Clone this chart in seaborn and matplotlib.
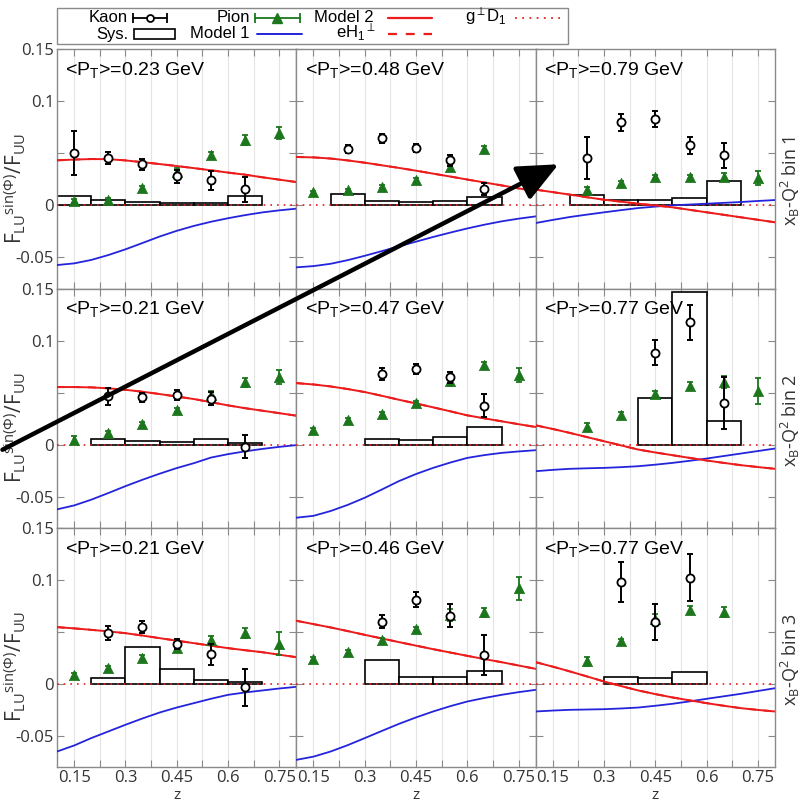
import matplotlib
matplotlib.use("Agg")
import matplotlib.pyplot as plt
import seaborn as sns
from matplotlib.lines import Line2D
from matplotlib.patches import Rectangle, FancyArrowPatch

# ---------------------------------------------------------------- data
z_curve = [0.10, 0.15, 0.20, 0.25, 0.30, 0.35, 0.40, 0.45,
           0.50, 0.55, 0.60, 0.65, 0.70, 0.75, 0.80]

pt_means = ["0.23", "0.48", "0.79",
            "0.21", "0.47", "0.77",
            "0.21", "0.46", "0.77"]
bin_names = ["bin 1", "bin 2", "bin 3"]
x_tick_vals = [0.15, 0.225, 0.3, 0.375, 0.45, 0.525, 0.6, 0.675, 0.75]
x_tick_text = ["0.15", "", "0.3", "", "0.45", "", "0.6", "", "0.75"]
y_tick_vals = [-0.05, 0.0, 0.05, 0.1, 0.15]
y_tick_text = ["-0.05", "0", "", "0.1", "0.15"]

kaon_z = [
    [0.15, 0.25, 0.35, 0.45, 0.55, 0.65],
    [0.25, 0.35, 0.45, 0.55, 0.65],
    [0.25, 0.35, 0.45, 0.55, 0.65],
    [0.25, 0.35, 0.45, 0.55, 0.65],
    [0.35, 0.45, 0.55, 0.65],
    [0.45, 0.55, 0.65],
    [0.25, 0.35, 0.45, 0.55, 0.65],
    [0.35, 0.45, 0.55, 0.65],
    [0.35, 0.45, 0.55],
]
kaon_val = [
    [0.0503, 0.0455, 0.0397, 0.0279, 0.0240, 0.0154],
    [0.0542, 0.0644, 0.0551, 0.0433, 0.0157],
    [0.0455, 0.0798, 0.0830, 0.0577, 0.0481],
    [0.0463, 0.0454, 0.0479, 0.0441, -0.0022],
    [0.0677, 0.0725, 0.0645, 0.0374],
    [0.0885, 0.1176, 0.0399],
    [0.0487, 0.0545, 0.0381, 0.0285, -0.0035],
    [0.0599, 0.0808, 0.0654, 0.0279],
    [0.0978, 0.0593, 0.1022],
]
kaon_err = [
    [0.0210, 0.0060, 0.0053, 0.0060, 0.0090, 0.0120],
    [0.0035, 0.0040, 0.0040, 0.0050, 0.0060],
    [0.0205, 0.0085, 0.0075, 0.0083, 0.0120],
    [0.0080, 0.0045, 0.0050, 0.0060, 0.0110],
    [0.0060, 0.0050, 0.0050, 0.0110],
    [0.0123, 0.0168, 0.0250],
    [0.0070, 0.0060, 0.0050, 0.0100, 0.0180],
    [0.0060, 0.0070, 0.0110, 0.0190],
    [0.0195, 0.0170, 0.0230],
]
# systematic uncertainty boxes share the kaon z bins
kaon_sys = [
    [0.0087, 0.0054, 0.0032, 0.0019, 0.0026, 0.0087],
    [0.0112, 0.0042, 0.0029, 0.0042, 0.0077],
    [0.0096, 0.0048, 0.0048, 0.0071, 0.0234],
    [0.0058, 0.0038, 0.0022, 0.0054, 0.0013],
    [0.0058, 0.0048, 0.0070, 0.0169],
    [0.0447, 0.1470, 0.0224],
    [0.0054, 0.0353, 0.0144, 0.0038, 0.0016],
    [0.0231, 0.0061, 0.0070, 0.0125],
    [0.0070, 0.0054, 0.0109],
]

pion_z = [
    [0.15, 0.25, 0.35, 0.45, 0.55, 0.65, 0.75],
    [0.15, 0.25, 0.35, 0.45, 0.55, 0.65],
    [0.25, 0.35, 0.45, 0.55, 0.65, 0.75],
    [0.15, 0.25, 0.35, 0.45, 0.55, 0.65, 0.75],
    [0.15, 0.25, 0.35, 0.45, 0.55, 0.65, 0.75],
    [0.25, 0.35, 0.45, 0.55, 0.65, 0.75],
    [0.15, 0.25, 0.35, 0.45, 0.55, 0.65, 0.75],
    [0.15, 0.25, 0.35, 0.45, 0.55, 0.65, 0.75],
    [0.25, 0.35, 0.45, 0.55, 0.65],
]
pion_val = [
    [0.0045, 0.0055, 0.0167, 0.0320, 0.0480, 0.0630, 0.0696],
    [0.0125, 0.0144, 0.0180, 0.0240, 0.0369, 0.0542],
    [0.0151, 0.0215, 0.0272, 0.0272, 0.0272, 0.0263],
    [0.0048, 0.0112, 0.0198, 0.0329, 0.0479, 0.0597, 0.0649],
    [0.0137, 0.0240, 0.0294, 0.0399, 0.0607, 0.0767, 0.0671],
    [0.0166, 0.0288, 0.0486, 0.0565, 0.0600, 0.0518],
    [0.0087, 0.0150, 0.0253, 0.0343, 0.0423, 0.0487, 0.0385],
    [0.0237, 0.0304, 0.0417, 0.0529, 0.0663, 0.0686, 0.0920],
    [0.0215, 0.0407, 0.0625, 0.0712, 0.0689],
]
pion_err = [
    [0.0020, 0.0015, 0.0015, 0.0040, 0.0030, 0.0050, 0.0060],
    [0.0015, 0.0015, 0.0015, 0.0020, 0.0030, 0.0030],
    [0.0030, 0.0020, 0.0020, 0.0020, 0.0040, 0.0070],
    [0.0030, 0.0020, 0.0020, 0.0020, 0.0040, 0.0040, 0.0070],
    [0.0020, 0.0020, 0.0020, 0.0020, 0.0040, 0.0030, 0.0070],
    [0.0040, 0.0030, 0.0030, 0.0040, 0.0060, 0.0125],
    [0.0020, 0.0020, 0.0020, 0.0030, 0.0040, 0.0050, 0.0110],
    [0.0020, 0.0020, 0.0020, 0.0020, 0.0060, 0.0040, 0.0110],
    [0.0040, 0.0020, 0.0050, 0.0040, 0.0050],
]

model1 = [
    [-0.0574, -0.0558, -0.0525, -0.0478, -0.0423, -0.0362, -0.0300, -0.0245,
     -0.0198, -0.0158, -0.0124, -0.0094, -0.0068, -0.0048, -0.0032],
    [-0.0596, -0.0584, -0.0562, -0.0527, -0.0485, -0.0440, -0.0394, -0.0349,
     -0.0304, -0.0262, -0.0222, -0.0186, -0.0154, -0.0128, -0.0106],
    [-0.0170, -0.0140, -0.0112, -0.0089, -0.0067, -0.0046, -0.0026, -0.0012,
     0.0000, 0.0008, 0.0016, 0.0024, 0.0032, 0.0042, 0.0051],
    [-0.0623, -0.0585, -0.0530, -0.0466, -0.0400, -0.0338, -0.0280, -0.0226,
     -0.0179, -0.0125, -0.0092, -0.0065, -0.0042, -0.0022, -0.0005],
    [-0.0703, -0.0685, -0.0639, -0.0580, -0.0511, -0.0432, -0.0351, -0.0283,
     -0.0224, -0.0173, -0.0128, -0.0101, -0.0080, -0.0066, -0.0054],
    [-0.0256, -0.0243, -0.0233, -0.0228, -0.0224, -0.0217, -0.0208, -0.0193,
     -0.0176, -0.0156, -0.0134, -0.0110, -0.0086, -0.0062, -0.0038],
    [-0.0651, -0.0593, -0.0522, -0.0458, -0.0394, -0.0333, -0.0276, -0.0228,
     -0.0186, -0.0144, -0.0106, -0.0083, -0.0064, -0.0045, -0.0029],
    [-0.0731, -0.0700, -0.0651, -0.0590, -0.0522, -0.0453, -0.0385, -0.0323,
     -0.0266, -0.0215, -0.0170, -0.0136, -0.0106, -0.0080, -0.0058],
    [-0.0266, -0.0257, -0.0250, -0.0247, -0.0244, -0.0237, -0.0228, -0.0211,
     -0.0192, -0.0169, -0.0144, -0.0120, -0.0096, -0.0069, -0.0042],
]
model2 = [
    [0.0433, 0.0440, 0.0445, 0.0444, 0.0432, 0.0415, 0.0397, 0.0378,
     0.0358, 0.0337, 0.0315, 0.0295, 0.0270, 0.0247, 0.0224],
    [0.0465, 0.0461, 0.0450, 0.0432, 0.0410, 0.0385, 0.0360, 0.0333,
     0.0305, 0.0277, 0.0248, 0.0220, 0.0192, 0.0163, 0.0135],
    [0.0151, 0.0127, 0.0103, 0.0078, 0.0054, 0.0035, 0.0016, -0.0001,
     -0.0019, -0.0043, -0.0067, -0.0091, -0.0115, -0.0139, -0.0163],
    [0.0553, 0.0553, 0.0550, 0.0541, 0.0527, 0.0508, 0.0486, 0.0462,
     0.0438, 0.0408, 0.0377, 0.0350, 0.0326, 0.0302, 0.0278],
    [0.0591, 0.0578, 0.0559, 0.0534, 0.0505, 0.0469, 0.0431, 0.0395,
     0.0358, 0.0320, 0.0281, 0.0252, 0.0224, 0.0196, 0.0169],
    [0.0185, 0.0150, 0.0112, 0.0072, 0.0032, -0.0008, -0.0048, -0.0076,
     -0.0102, -0.0128, -0.0153, -0.0176, -0.0198, -0.0216, -0.0233],
    [0.0545, 0.0533, 0.0519, 0.0504, 0.0487, 0.0464, 0.0439, 0.0415,
     0.0391, 0.0367, 0.0343, 0.0323, 0.0304, 0.0280, 0.0256],
    [0.0606, 0.0574, 0.0542, 0.0507, 0.0471, 0.0436, 0.0401, 0.0367,
     0.0333, 0.0301, 0.0269, 0.0238, 0.0208, 0.0176, 0.0144],
    [0.0208, 0.0165, 0.0119, 0.0071, 0.0022, -0.0022, -0.0064, -0.0099,
     -0.0131, -0.0159, -0.0186, -0.0211, -0.0234, -0.0251, -0.0266],
]
# eH1-perp term: coincides with Model 2 everywhere on this scale
eh1_term = model2
# g-perp D1 term: flat at zero
gperp_d1 = [0.0, 0.0, 0.0, 0.0, 0.0, 0.0, 0.0, 0.0,
            0.0, 0.0, 0.0, 0.0, 0.0, 0.0, 0.0]

# ---------------------------------------------------------------- style
sns.set_theme(style="white")
plt.rcParams["font.family"] = ["Liberation Sans", "DejaVu Sans"]
plt.rcParams["mathtext.fontset"] = "custom"
plt.rcParams["mathtext.rm"] = "Liberation Sans"
plt.rcParams["mathtext.it"] = "Liberation Sans:italic"
plt.rcParams["mathtext.bf"] = "Liberation Sans:bold"

RED = "#ec1c1c"
BLUE = "#2424dc"
GREEN = "#1c761c"
FRAME = "#8a8a8a"
TICKFONT = ["Open Sans", "DejaVu Sans"]
W_PX, H_PX = 804, 802

fig, axes = plt.subplots(3, 3, figsize=(8.04, 8.02), dpi=100)
fig.subplots_adjust(left=0.0709, right=0.964, top=0.9385, bottom=0.0436,
                    wspace=0.0, hspace=0.0)

for i in range(9):
    r, c = divmod(i, 3)
    ax = axes[r, c]
    ax.set_xlim(0.1, 0.8)
    ax.set_ylim(-0.08, 0.15)
    ax.set_axisbelow(True)
    ax.grid(axis="x", color="#e4e4e4", lw=0.8)

    # systematic boxes
    ax.bar(kaon_z[i], kaon_sys[i], width=0.1, bottom=0.0,
           facecolor="white", edgecolor="black", lw=1.2, zorder=2)

    # model curves
    sns.lineplot(x=z_curve, y=gperp_d1, ax=ax, color=RED, lw=1.2,
                 linestyle=(0, (1, 3)), zorder=3)
    sns.lineplot(x=z_curve, y=model1[i], ax=ax, color=BLUE, lw=1.3, zorder=3)
    sns.lineplot(x=z_curve, y=model2[i], ax=ax, color=RED, lw=1.4, zorder=3)
    sns.lineplot(x=z_curve, y=eh1_term[i], ax=ax, color=RED, lw=1.4,
                 linestyle=(0, (4, 4)), zorder=3)

    # pion points
    ax.errorbar(pion_z[i], pion_val[i], yerr=pion_err[i], fmt="none",
                ecolor=GREEN, elinewidth=1.3, capsize=2.5, capthick=1.3,
                zorder=4)
    sns.scatterplot(x=pion_z[i], y=pion_val[i], ax=ax, marker="^", s=55,
                    color=GREEN, edgecolor=GREEN, linewidth=0.5, zorder=5)

    # kaon points
    ax.errorbar(kaon_z[i], kaon_val[i], yerr=kaon_err[i], fmt="none",
                ecolor="black", elinewidth=1.4, capsize=2.5, capthick=1.4,
                zorder=6)
    sns.scatterplot(x=kaon_z[i], y=kaon_val[i], ax=ax, marker="o", s=34,
                    facecolor="white", edgecolor="black", linewidth=1.3,
                    zorder=7)

    ax.text(0.035, 0.955, r"<P$_\mathregular{T}$>=" + pt_means[i] + " GeV",
            transform=ax.transAxes, ha="left", va="top", fontsize=14,
            color="black", zorder=8)

    ax.set_xticks(x_tick_vals)
    ax.set_yticks(y_tick_vals)
    ax.tick_params(axis="both", direction="in", length=5, width=0.8,
                   color=FRAME, top=True, right=True, bottom=True, left=True,
                   labelcolor="#333333", labelsize=12, pad=2)
    if r == 2:
        ax.set_xticklabels(x_tick_text, fontfamily=TICKFONT)
        ax.set_xlabel("z", fontsize=11, fontfamily=TICKFONT,
                      color="#333333")
        ax.xaxis.set_label_coords(0.5, -0.088)
        ax.xaxis.label.set_verticalalignment("top")
    else:
        ax.set_xticklabels([])
        ax.set_xlabel("")
    if c == 0:
        ax.set_yticklabels(y_tick_text, fontfamily=TICKFONT)
        ax.set_ylabel(r"F$_\mathregular{LU}$$^\mathregular{sin(\Phi)}$/F$_\mathregular{UU}$",
                      fontsize=15, fontfamily=TICKFONT, color="#333333")
        ax.yaxis.set_label_coords(-0.12, 0.42)
    else:
        ax.set_yticklabels([])
        ax.set_ylabel("")
    if c == 2:
        ax.text(1.063, 0.45,
                r"x$_\mathregular{B}$-Q$^\mathregular{2}$ " + bin_names[r],
                transform=ax.transAxes, rotation=90, ha="center",
                va="center", fontsize=13, color="#333333",
                fontfamily=TICKFONT)
    for sp in ax.spines.values():
        sp.set_color(FRAME)
        sp.set_linewidth(1.0)


# ---------------------------------------------------------------- key box
def fx(px):
    return px / W_PX


def fy(py):
    return 1 - py / H_PX


def key_line(x0, x1, y, **kw):
    fig.add_artist(Line2D([fx(x0), fx(x1)], [fy(y), fy(y)],
                          transform=fig.transFigure, **kw))


def key_point(x, y, **kw):
    fig.add_artist(Line2D([fx(x)], [fy(y)], transform=fig.transFigure,
                          ls="none", **kw))


def key_label(x, y, s):
    fig.text(fx(x), fy(y), s, ha="right", va="baseline", fontsize=12,
             color="black")


fig.add_artist(Rectangle((fx(57), fy(44)), fx(568) - fx(57), fy(8) - fy(44),
                         transform=fig.transFigure, facecolor="white",
                         edgecolor=FRAME, lw=1.0, zorder=1))
ROW1, ROW2 = 17.5, 34.0
BASE = 4.5

# Kaon
key_label(128, ROW1 + BASE, "Kaon")
key_line(133, 167, ROW1, color="black", lw=1.3)
key_point(133, ROW1, marker="|", ms=7, mew=1.3, color="black")
key_point(167, ROW1, marker="|", ms=7, mew=1.3, color="black")
key_point(150, ROW1, marker="o", ms=5, mfc="white", mec="black", mew=1.3)
# Sys.
key_label(128, ROW2 + BASE, "Sys.")
fig.add_artist(Rectangle((fx(134), fy(39)), fx(175) - fx(134), fy(29) - fy(39),
                         transform=fig.transFigure, facecolor="white",
                         edgecolor="black", lw=1.2))
# Pion
key_label(250, ROW1 + BASE, "Pion")
key_line(255, 300, ROW1, color=GREEN, lw=1.3)
key_point(255, ROW1, marker="|", ms=7, mew=1.3, color=GREEN)
key_point(300, ROW1, marker="|", ms=7, mew=1.3, color=GREEN)
key_point(277, ROW1, marker="^", ms=6.5, color=GREEN)
# Model 1
key_label(250, ROW2 + BASE, "Model 1")
key_line(257, 302, ROW2, color=BLUE, lw=1.4)
# Model 2
key_label(374, ROW1 + BASE, "Model 2")
key_line(388, 432, ROW1, color=RED, lw=1.6)
# eH1-perp
key_label(376, ROW2 + BASE, r"eH$_\mathregular{1}$$^{\perp}$")
key_line(388, 432, ROW2, color=RED, lw=1.6, ls=(0, (4, 4)))
# g-perp D1
key_label(507, ROW1 + BASE, r"g$^{\perp}$D$_\mathregular{1}$")
key_line(515, 560, ROW1, color=RED, lw=1.3, ls=(0, (1, 3)))

# ---------------------------------------------------------------- arrow overlay
arrow = FancyArrowPatch((fx(0), fy(451)), (fx(561), fy(163)),
                        transform=fig.transFigure,
                        arrowstyle="-|>,head_length=1.0,head_width=0.45",
                        mutation_scale=25, lw=3.2, color="black", zorder=20)
fig.add_artist(arrow)

fig.savefig("out.png", dpi=100)
